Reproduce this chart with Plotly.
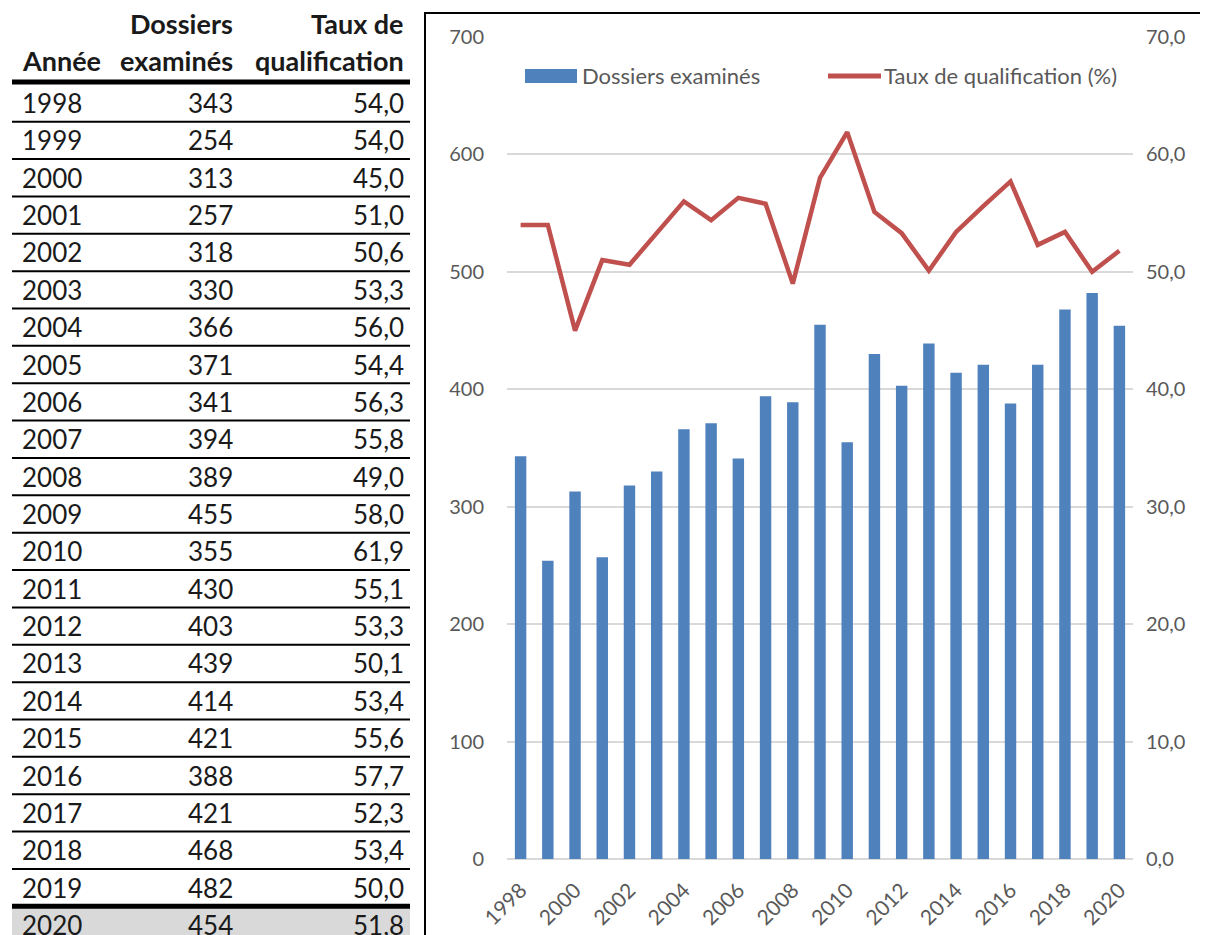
import plotly.graph_objects as go

years = [str(y) for y in range(1998, 2021)]
dossiers = [343, 254, 313, 257, 318, 330, 366, 371, 341, 394, 389, 455,
            355, 430, 403, 439, 414, 421, 388, 421, 468, 482, 454]
taux = [54.0, 54.0, 45.0, 51.0, 50.6, 53.3, 56.0, 54.4, 56.3, 55.8, 49.0, 58.0,
        61.9, 55.1, 53.3, 50.1, 53.4, 55.6, 57.7, 52.3, 53.4, 50.0, 51.8]
x_ticks = years[::2]

# the page body has an 8px margin, so the figure is 8px smaller and shifted
OFF = 8
W, H = 1208 - OFF, 935 - OFF
FONT = "Lato"
BLUE = "#4f81bd"
RED = "#c0504d"
GREY_TXT = "#595959"


def px_x(x):
    return (x - OFF) / W


def px_y(y):
    return 1 - (y - OFF) / H


fig = go.Figure()

fig.add_trace(go.Bar(x=years, y=dossiers, name="Dossiers examinés",
                     marker=dict(color=BLUE, line=dict(width=0)), width=0.42))
fig.add_trace(go.Scatter(x=years, y=taux, name="Taux de qualification (%)",
                         mode="lines", line=dict(color=RED, width=4.5),
                         yaxis="y2"))

shapes = []
annotations = []

# chart frame (left and top)
shapes.append(dict(type="line", xref="paper", yref="paper",
                   x0=px_x(425), x1=px_x(425), y0=px_y(13), y1=0,
                   line=dict(color="black", width=2)))
shapes.append(dict(type="line", xref="paper", yref="paper",
                   x0=px_x(424), x1=1, y0=px_y(13), y1=px_y(13),
                   line=dict(color="black", width=2)))


def ann(text, x, y, anchor, font):
    annotations.append(dict(text=text, x=px_x(x), y=px_y(y), xref="paper", yref="paper",
                            xanchor=anchor, yanchor="middle", showarrow=False, font=font))


# legend drawn by hand (wide swatches like the original)
leg_font = dict(family=FONT, size=22, color=GREY_TXT)
shapes.append(dict(type="rect", xref="paper", yref="paper",
                   x0=px_x(525), x1=px_x(577), y0=px_y(83), y1=px_y(69),
                   fillcolor=BLUE, line=dict(width=0)))
ann(fig.data[0].name, 580, 76, "left", leg_font)
shapes.append(dict(type="line", xref="paper", yref="paper",
                   x0=px_x(828), x1=px_x(881), y0=px_y(76), y1=px_y(76),
                   line=dict(color=RED, width=5)))
ann(fig.data[1].name, 882, 76, "left", leg_font)

# table on the left
row0 = 103
step = (925 - 103) / 22
col_year, col_dos, col_taux = 20, 235, 406
txt = dict(family=FONT, size=26, color="#1a1a1a")
hdr = dict(family=FONT, size=27, color="#1a1a1a")

ann("<b>Dossiers</b>", col_dos, 24, "right", hdr)
ann("<b>Taux de</b>", col_taux, 24, "right", hdr)
ann("<b>Année</b>", col_year, 61, "left", hdr)
ann("<b>examinés</b>", col_dos, 61, "right", hdr)
ann("<b>qualification</b>", col_taux, 61, "right", hdr)

shapes.append(dict(type="line", xref="paper", yref="paper",
                   x0=px_x(12), x1=px_x(410), y0=px_y(82), y1=px_y(82),
                   line=dict(color="black", width=5)))

# grey background of the last row
last_y = row0 + step * (len(years) - 1)
shapes.append(dict(type="rect", xref="paper", yref="paper",
                   x0=px_x(12), x1=px_x(410), y0=px_y(last_y - 20), y1=0,
                   fillcolor="#d9d9d9", line=dict(width=0), layer="below"))

for i, (yr, d, t) in enumerate(zip(years, dossiers, taux)):
    yc = row0 + step * i
    ann(yr, col_year, yc, "left", txt)
    ann(str(d), col_dos, yc, "right", txt)
    ann(f"{t:.1f}".replace(".", ","), col_taux, yc, "right", txt)
    if i < len(years) - 1:
        yl = yc + step / 2
        thick = i == len(years) - 2
        shapes.append(dict(type="line", xref="paper", yref="paper",
                           x0=px_x(12), x1=px_x(410), y0=px_y(yl), y1=px_y(yl),
                           line=dict(color="black", width=5 if thick else 2)))

tick_font = dict(family=FONT, size=20, color=GREY_TXT)

fig.update_layout(
    width=W, height=H,
    margin=dict(l=0, r=0, t=0, b=0, autoexpand=False),
    paper_bgcolor="white",
    plot_bgcolor="white",
    separators=", ",
    showlegend=False,
    xaxis=dict(domain=[px_x(507), px_x(1133)], type="category",
               range=[-0.5, len(years) - 0.5], automargin=False,
               tickmode="array", tickvals=x_ticks, ticktext=x_ticks,
               tickangle=-45, tickfont=dict(family=FONT, size=21, color=GREY_TXT),
               ticklabelstandoff=14, showgrid=False,
               showline=False, ticks="", zeroline=False),
    yaxis=dict(domain=[px_y(859), px_y(37)], range=[0, 700], dtick=100,
               automargin=False,
               tickfont=tick_font, showgrid=True, gridcolor="#d9d9d9", gridwidth=1.5,
               zeroline=True, zerolinecolor="#d9d9d9", zerolinewidth=2,
               showline=False, ticks="", ticklabelstandoff=22),
    yaxis2=dict(overlaying="y", side="right", range=[0, 70], dtick=10,
                automargin=False,
                tickformat=".1f", tickfont=tick_font, showgrid=False,
                zeroline=False, showline=False, ticks="", ticklabelstandoff=12),
    shapes=shapes,
    annotations=annotations,
    font=dict(family=FONT),
)

fig.write_html("out.html")
